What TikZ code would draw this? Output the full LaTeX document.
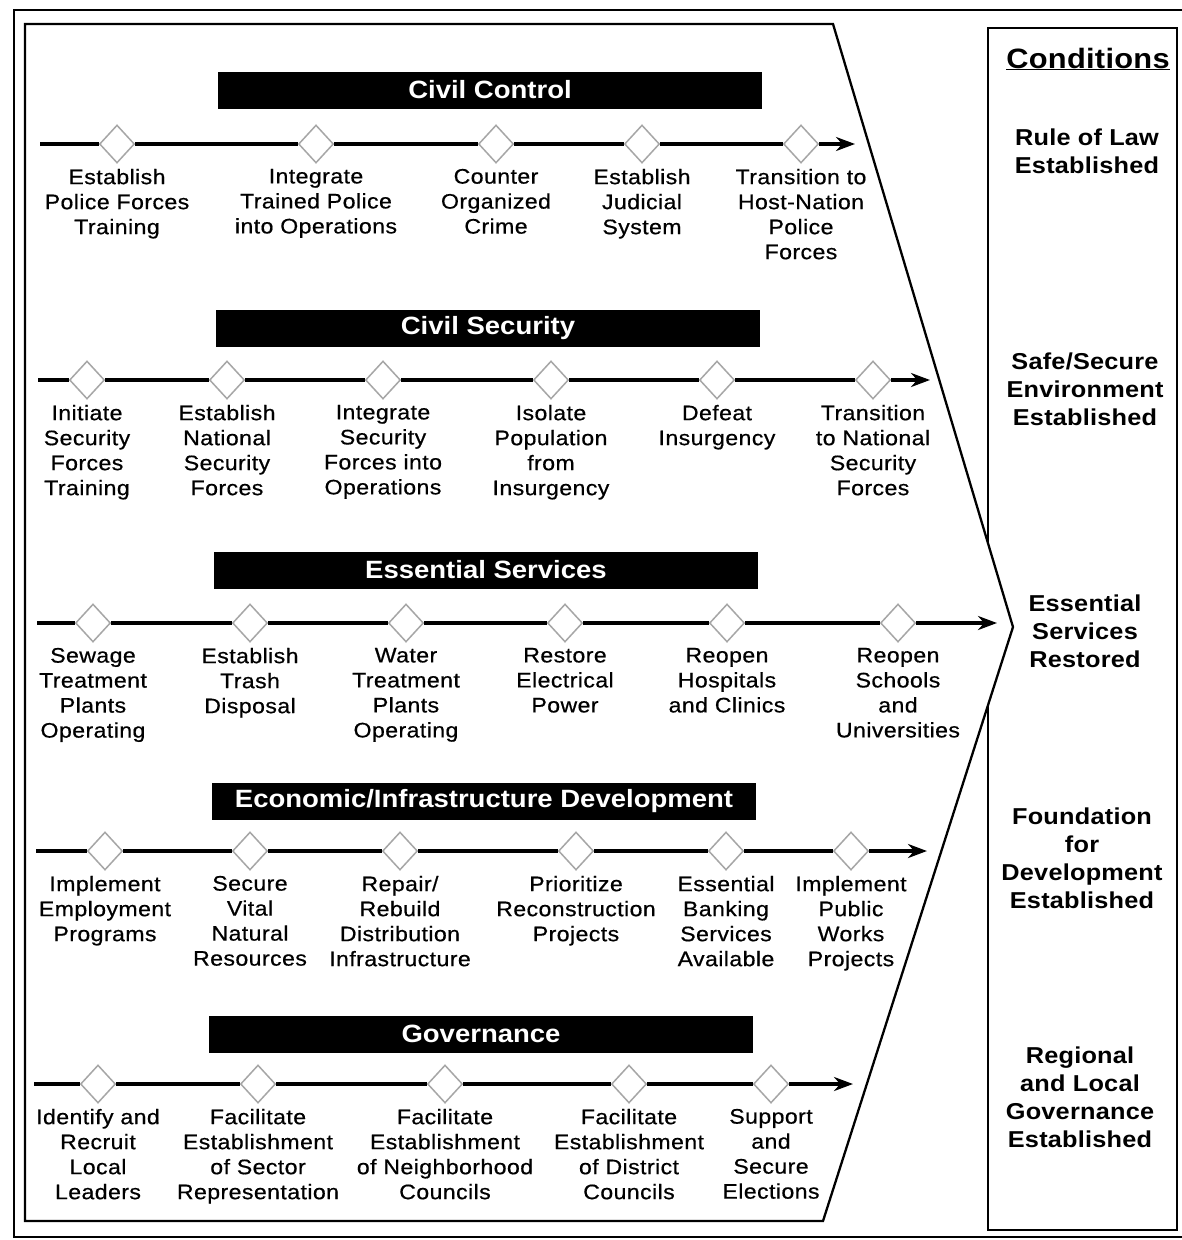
\documentclass[tikz,border=0pt]{standalone}
\usepackage{fontspec}
\setmainfont{Liberation Sans}
\newfontfamily\lblfont{Liberation Sans}[FakeStretch=1.1,LetterSpace=2,FakeBold=0.6]
\newfontfamily\hdrfont{Liberation Sans}[FakeStretch=1.1]
\newfontfamily\condfont{Liberation Sans}[FakeStretch=1.1,LetterSpace=1]
\usetikzlibrary{arrows.meta,shapes.geometric,positioning}

\begin{document}
\begin{tikzpicture}[x=1pt, y=-1pt,
    mile/.style={diamond, draw=gray!70, fill=white, line width=1.5pt, minimum width=35pt, minimum height=38pt, inner sep=0pt},
    lbl/.style={align=center, inner sep=0pt, font=\lblfont\fontsize{21}{25}\selectfont},
    bar/.style={fill=black, text=white, minimum width=544pt, minimum height=37pt, inner sep=0pt, font=\hdrfont\bfseries\fontsize{25}{28}\selectfont},
    cond/.style={align=center, inner sep=0pt, font=\condfont\bfseries\fontsize{23}{28}\selectfont},
    tline/.style={line width=3.2pt, -{Stealth[length=19pt,width=14pt]}},
    frame/.style={line width=2.3pt}]
\useasboundingbox (0,0) rectangle (1182,1240);

% frames
\draw [frame] (1182,10) -- (14,10) -- (14,1237) -- (1182,1237);
\draw [frame] (988,28) rectangle (1177,1230);
\draw [frame, fill=white] (25,24) -- (833,24) -- (1013,627) -- (823,1221) -- (25,1221) -- cycle;

% conditions
\node [font=\condfont\bfseries\fontsize{28}{32}\selectfont, anchor=base, inner sep=0pt] (ctitle) at (1088,68) {\underline{Conditions}};
\node [cond] (cnd1) at (1087,151) {Rule of Law\\Established};
\node [cond] (cnd2) at (1085,389) {Safe/Secure\\Environment\\Established};
\node [cond] (cnd3) at (1085,631) {Essential\\Services\\Restored};
\node [cond] (cnd4) at (1082,858) {Foundation\\for\\Development\\Established};
\node [cond] (cnd5) at (1080,1097) {Regional\\and Local\\Governance\\Established};

% civil control
\node [bar] (ccbar) at (490,90) {Civil Control};
\coordinate (ccS) at (40,144);
\coordinate (ccE) at (855,144);
\node [mile] (cc1) at (117,144) {};
\node [mile] (cc2) at (316,144) {};
\node [mile] (cc3) at (496,144) {};
\node [mile] (cc4) at (642,144) {};
\node [mile] (cc5) at (801,144) {};
\draw [tline] (ccS) -- (cc1) -- (cc2) -- (cc3) -- (cc4) -- (cc5) -- (ccE);
\node [lbl, below=5pt of cc1] (cc1t) {Establish\\Police Forces\\Training};
\node [lbl, below=5pt of cc2] (cc2t) {Integrate\\Trained Police\\into Operations};
\node [lbl, below=5pt of cc3] (cc3t) {Counter\\Organized\\Crime};
\node [lbl, below=5pt of cc4] (cc4t) {Establish\\Judicial\\System};
\node [lbl, below=5pt of cc5] (cc5t) {Transition to\\Host-Nation\\Police\\Forces};

% civil security
\node [bar] (csbar) at (488,328) {Civil Security};
\coordinate (csS) at (38,380);
\coordinate (csE) at (930,380);
\node [mile] (cs1) at (87,380) {};
\node [mile] (cs2) at (227,380) {};
\node [mile] (cs3) at (383,380) {};
\node [mile] (cs4) at (551,380) {};
\node [mile] (cs5) at (717,380) {};
\node [mile] (cs6) at (873,380) {};
\draw [tline] (csS) -- (cs1) -- (cs2) -- (cs3) -- (cs4) -- (cs5) -- (cs6) -- (csE);
\node [lbl, below=5pt of cs1] (cs1t) {Initiate\\Security\\Forces\\Training};
\node [lbl, below=5pt of cs2] (cs2t) {Establish\\National\\Security\\Forces};
\node [lbl, below=5pt of cs3] (cs3t) {Integrate\\Security\\Forces into\\Operations};
\node [lbl, below=5pt of cs4] (cs4t) {Isolate\\Population\\from\\Insurgency};
\node [lbl, below=5pt of cs5] (cs5t) {Defeat\\Insurgency};
\node [lbl, below=5pt of cs6] (cs6t) {Transition\\to National\\Security\\Forces};

% essential services
\node [bar] (esbar) at (486,570) {Essential Services};
\coordinate (esS) at (37,623);
\coordinate (esE) at (997,623);
\node [mile] (es1) at (93,623) {};
\node [mile] (es2) at (250,623) {};
\node [mile] (es3) at (406,623) {};
\node [mile] (es4) at (565,623) {};
\node [mile] (es5) at (727,623) {};
\node [mile] (es6) at (898,623) {};
\draw [tline] (esS) -- (es1) -- (es2) -- (es3) -- (es4) -- (es5) -- (es6) -- (esE);
\node [lbl, below=5pt of es1] (es1t) {Sewage\\Treatment\\Plants\\Operating};
\node [lbl, below=5pt of es2] (es2t) {Establish\\Trash\\Disposal};
\node [lbl, below=5pt of es3] (es3t) {Water\\Treatment\\Plants\\Operating};
\node [lbl, below=5pt of es4] (es4t) {Restore\\Electrical\\Power};
\node [lbl, below=5pt of es5] (es5t) {Reopen\\Hospitals\\and Clinics};
\node [lbl, below=5pt of es6] (es6t) {Reopen\\Schools\\and\\Universities};

% economic / infrastructure
\node [bar] (edbar) at (484,801) {Economic/Infrastructure Development};
\coordinate (edS) at (36,851);
\coordinate (edE) at (927,851);
\node [mile] (ed1) at (105,851) {};
\node [mile] (ed2) at (250,851) {};
\node [mile] (ed3) at (400,851) {};
\node [mile] (ed4) at (576,851) {};
\node [mile] (ed5) at (726,851) {};
\node [mile] (ed6) at (851,851) {};
\draw [tline] (edS) -- (ed1) -- (ed2) -- (ed3) -- (ed4) -- (ed5) -- (ed6) -- (edE);
\node [lbl, below=5pt of ed1] (ed1t) {Implement\\Employment\\Programs};
\node [lbl, below=5pt of ed2] (ed2t) {Secure\\Vital\\Natural\\Resources};
\node [lbl, below=5pt of ed3] (ed3t) {Repair/\\Rebuild\\Distribution\\Infrastructure};
\node [lbl, below=5pt of ed4] (ed4t) {Prioritize\\Reconstruction\\Projects};
\node [lbl, below=5pt of ed5] (ed5t) {Essential\\Banking\\Services\\Available};
\node [lbl, below=5pt of ed6] (ed6t) {Implement\\Public\\Works\\Projects};

% governance
\node [bar] (gvbar) at (481,1034) {Governance};
\coordinate (gvS) at (34,1084);
\coordinate (gvE) at (853,1084);
\node [mile] (gv1) at (98,1084) {};
\node [mile] (gv2) at (258,1084) {};
\node [mile] (gv3) at (445,1084) {};
\node [mile] (gv4) at (629,1084) {};
\node [mile] (gv5) at (771,1084) {};
\draw [tline] (gvS) -- (gv1) -- (gv2) -- (gv3) -- (gv4) -- (gv5) -- (gvE);
\node [lbl, below=5pt of gv1] (gv1t) {Identify and\\Recruit\\Local\\Leaders};
\node [lbl, below=5pt of gv2] (gv2t) {Facilitate\\Establishment\\of Sector\\Representation};
\node [lbl, below=5pt of gv3] (gv3t) {Facilitate\\Establishment\\of Neighborhood\\Councils};
\node [lbl, below=5pt of gv4] (gv4t) {Facilitate\\Establishment\\of District\\Councils};
\node [lbl, below=5pt of gv5] (gv5t) {Support\\and\\Secure\\Elections};

\end{tikzpicture}
\end{document}
